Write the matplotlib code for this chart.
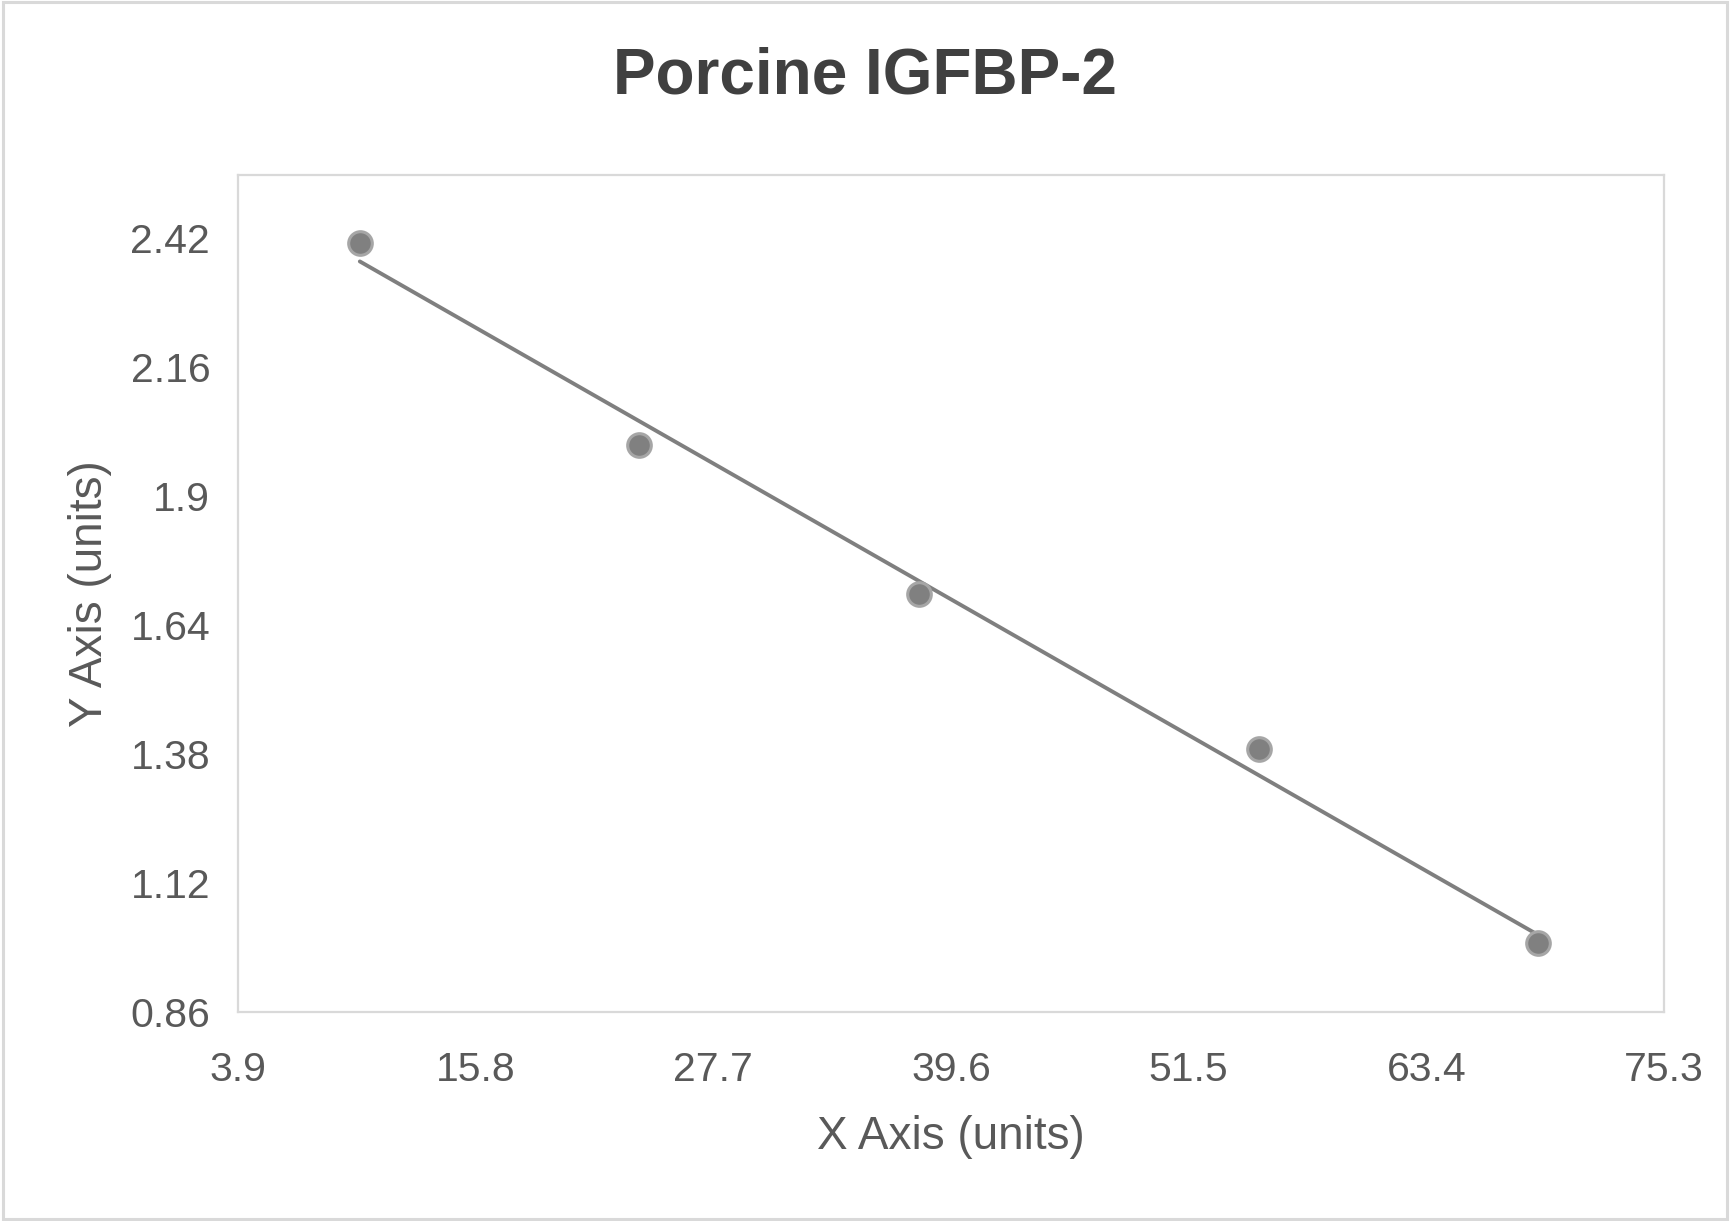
import matplotlib
matplotlib.use("Agg")
import matplotlib.pyplot as plt
import numpy as np
from matplotlib.patches import Rectangle

x_vals = [10.0, 24.0, 38.0, 55.0, 69.0]
y_vals = [2.411, 2.003, 1.703, 1.390, 0.999]
x_ticks = [3.9, 15.8, 27.7, 39.6, 51.5, 63.4, 75.3]
y_ticks = [0.86, 1.12, 1.38, 1.64, 1.9, 2.16, 2.42]
x_tick_labels = ["3.9", "15.8", "27.7", "39.6", "51.5", "63.4", "75.3"]
y_tick_labels = ["0.86", "1.12", "1.38", "1.64", "1.9", "2.16", "2.42"]
title = "Porcine IGFBP-2"
x_label = "X Axis (units)"
y_label = "Y Axis (units)"

plt.rcParams['font.family'] = ['Liberation Sans', 'DejaVu Sans']

fig = plt.figure(figsize=(17.3, 12.21), dpi=100)
ax = fig.add_axes([238/1730, 1 - 1012/1221, (1664-238)/1730, (1012-175)/1221])

# trend line
coef = np.polyfit(x_vals, y_vals, 1)
xl = np.array([min(x_vals), max(x_vals)])
ax.plot(xl, np.polyval(coef, xl), color='#7f7f7f', lw=2.8, solid_capstyle='round', zorder=2)

ax.plot(x_vals, y_vals, 'o', ms=17, mfc='#808080', mec='#a6a6a6', mew=2.2, ls='none', zorder=3)

ax.set_xlim(3.9, 75.3)
ax.set_ylim(0.86, 2.5475)
ax.set_xticks(x_ticks)
ax.set_xticklabels(x_tick_labels)
ax.set_yticks(y_ticks)
ax.set_yticklabels(y_tick_labels)
ax.tick_params(length=0, labelsize=29.5, labelcolor='#595959')
ax.tick_params(axis='x', pad=28)
ax.tick_params(axis='y', pad=20)
for s in ax.spines.values():
    s.set_color('#d9d9d9')
    s.set_linewidth(1.6)

ax.set_xlabel(x_label, fontsize=33, color='#595959', labelpad=19)
ax.set_ylabel(y_label, fontsize=33, color='#595959', labelpad=13)

fig.text(0.5, 1 - 76/1221, title, ha='center', va='center', fontsize=46,
         fontweight='bold', color='#404040')

fig.patches.append(Rectangle((0.0015, 0.002), 0.997, 0.996, transform=fig.transFigure,
                             fill=False, edgecolor='#d9d9d9', lw=2.2))

fig.savefig('out.png', dpi=100, facecolor='white')
